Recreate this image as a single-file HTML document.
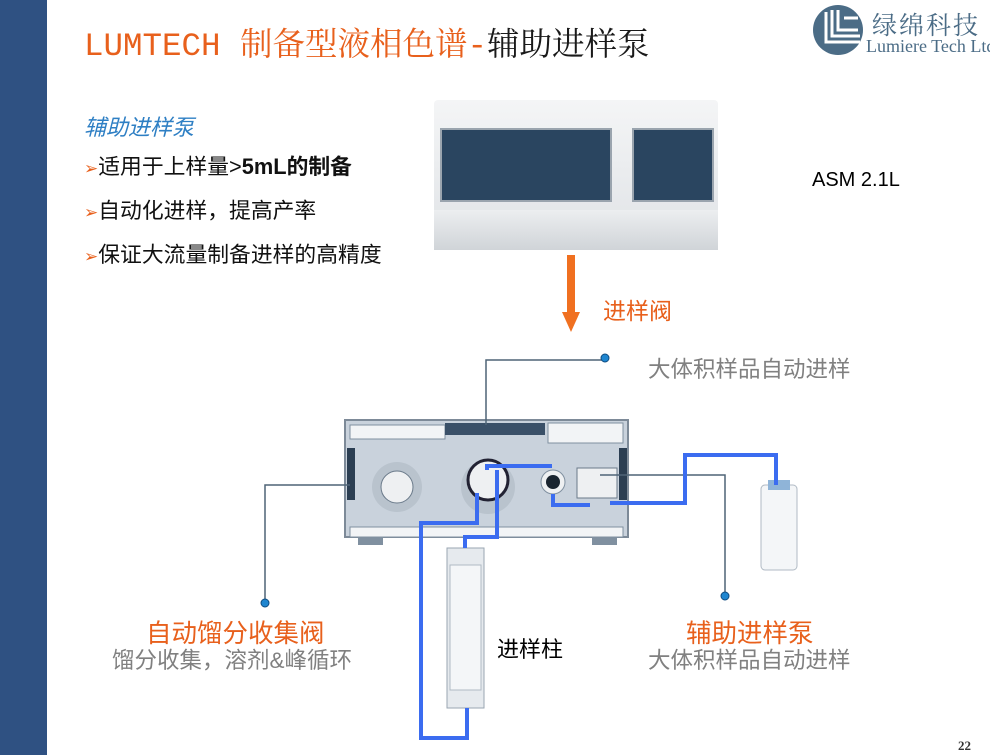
<!DOCTYPE html>
<html><head><meta charset="utf-8"><style>
body{margin:0;width:990px;height:755px;background:#fff;position:relative;overflow:hidden;font-family:"Liberation Sans","Noto Sans CJK SC",sans-serif}
.t{position:absolute;white-space:nowrap}
</style></head><body>
<div style="position:absolute;left:0;top:0;width:47px;height:755px;background:#2f5182"></div>
<div class="t" style="left:84px;top:19px;font-size:32.5px;color:#e8601c;font-family:'Liberation Mono','Noto Serif CJK SC',monospace">LUMTECH 制备型液相色谱-<span style="color:#1a1a1a">辅助进样泵</span></div>
<svg style="position:absolute;left:812px;top:4px" width="52" height="52"><circle cx="26" cy="26" r="25" fill="#4b6c86"/><path d="M14 8v30h34" stroke="#fff" stroke-width="3" fill="none"/><path d="M20 6v26h28M26 6v20h20M32 14h14" stroke="#fff" stroke-width="3" fill="none"/></svg>
<div class="t" style="left:872px;top:6px;font-size:25px;color:#4b6c86;font-family:'Noto Serif CJK SC',serif;letter-spacing:2px">绿绵科技</div>
<div class="t" style="left:866px;top:36px;font-size:18px;color:#4b6c86;font-family:'Liberation Serif',serif">Lumiere Tech Ltd</div>
<div class="t" style="left:84px;top:110px;font-size:22px;color:#2e7fc4;font-style:italic">辅助进样泵</div>
<div class="t" style="left:84px;top:146px;font-size:21.8px;color:#111;line-height:42px"><span style="color:#e8601c;font-size:17px">➢</span>适用于上样量&gt;<b>5mL的制备</b><br><span style="color:#e8601c;font-size:17px">➢</span>自动化进样，提高产率<br><span style="color:#e8601c;font-size:17px">➢</span>保证大流量制备进样的高精度</div>
<div style="position:absolute;left:434px;top:100px;width:284px;height:130px;background:linear-gradient(#f4f5f6,#e2e5e8);border-radius:4px"></div>
<div style="position:absolute;left:440px;top:128px;width:168px;height:70px;background:#2a4560;border:2px solid #9aa4ae"></div>
<div style="position:absolute;left:632px;top:128px;width:78px;height:70px;background:#2a4560;border:2px solid #9aa4ae"></div>
<div style="position:absolute;left:434px;top:210px;width:284px;height:40px;background:linear-gradient(#eceef0,#d0d4d8)"></div>
<div class="t" style="left:812px;top:169px;font-size:20px;color:#000">ASM 2.1L</div>
<div style="position:absolute;left:567px;top:255px;width:8px;height:60px;background:#f07020"></div>
<div style="position:absolute;left:562px;top:312px;border-left:9px solid transparent;border-right:9px solid transparent;border-top:20px solid #f07020"></div>
<div class="t" style="left:603px;top:292px;font-size:23px;color:#e8601c">进样阀</div>
<div class="t" style="left:648px;top:352px;font-size:22.5px;color:#808080">大体积样品自动进样</div>
<svg style="position:absolute;left:0;top:0" width="990" height="755">
<rect x="345" y="420" width="283" height="117" fill="#c9d2dc" stroke="#7d8a98" stroke-width="2"/>
<rect x="350" y="425" width="95" height="14" fill="#f2f4f6" stroke="#8090a0"/>
<rect x="445" y="423" width="100" height="12" fill="#3a5068"/>
<rect x="548" y="423" width="75" height="20" fill="#f2f4f6" stroke="#8090a0"/>
<rect x="350" y="527" width="273" height="10" fill="#f2f4f6" stroke="#8090a0"/>
<rect x="347" y="448" width="8" height="52" fill="#2b3e52"/><rect x="619" y="448" width="8" height="52" fill="#2b3e52"/>
<rect x="358" y="537" width="25" height="8" fill="#8090a0"/><rect x="592" y="537" width="25" height="8" fill="#8090a0"/>
<circle cx="397" cy="487" r="25" fill="#b9c3cd"/><circle cx="397" cy="487" r="16" fill="#eef0f2" stroke="#6a7a8a"/>
<circle cx="488" cy="487" r="27" fill="#b9c3cd"/><circle cx="488" cy="480" r="20" fill="#eef0f2" stroke="#223" stroke-width="3"/>
<circle cx="553" cy="482" r="12" fill="#eef0f2" stroke="#8090a0"/><circle cx="553" cy="482" r="7" fill="#1a2530"/>
<rect x="577" y="468" width="40" height="30" fill="#eef0f2" stroke="#6a7a8a"/>
<g fill="none" stroke="#4f6477" stroke-width="1.5">
<polyline points="486,425 486,360 605,360"/><polyline points="350,485 265,485 265,602"/><polyline points="600,475 725,475 725,595"/></g>
<g fill="#1f86d0" stroke="#0f4c80"><circle cx="605" cy="358" r="4"/><circle cx="265" cy="603" r="4"/><circle cx="725" cy="596" r="4"/></g>
<rect x="447" y="548" width="37" height="160" fill="#e6eaee" stroke="#9aa6b2"/>
<rect x="450" y="565" width="31" height="125" fill="#f4f6f8" stroke="#b0bac4"/>
<rect x="761" y="485" width="36" height="85" rx="4" fill="#f4f6f8" stroke="#b0bac4"/>
<rect x="768" y="480" width="22" height="10" fill="#8fb4d8"/>
<g fill="none" stroke="#3b6cf0" stroke-width="4">
<polyline points="477,493 477,523 421,523 421,738 467,738 467,708"/>
<polyline points="497,470 497,537 465,537 465,548"/>
<polyline points="487,470 487,466 552,466"/>
<polyline points="553,494 553,505 590,505"/>
<polyline points="610,503 685,503 685,455 776,455 776,485"/></g>
</svg>
<div class="t" style="left:146px;top:613px;font-size:25.5px;color:#e8601c">自动馏分收集阀</div>
<div class="t" style="left:112px;top:643px;font-size:22.5px;color:#808080">馏分收集，溶剂&amp;峰循环</div>
<div class="t" style="left:497px;top:632px;font-size:22px;color:#000">进样柱</div>
<div class="t" style="left:686px;top:613px;font-size:25.5px;color:#e8601c">辅助进样泵</div>
<div class="t" style="left:648px;top:643px;font-size:22.5px;color:#808080">大体积样品自动进样</div>
<div class="t" style="left:958px;top:738px;font-size:13px;font-weight:bold;color:#333;font-family:'Liberation Serif',serif">22</div>
</body></html>
